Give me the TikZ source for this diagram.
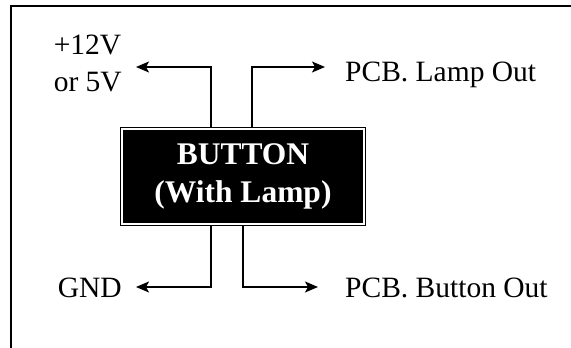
\documentclass[tikz,border=0pt]{standalone}
\usepackage{fontspec}
\setmainfont{Liberation Serif}
\usetikzlibrary{positioning,arrows.meta}

\begin{document}
\begin{tikzpicture}[x=1pt, y=1pt,
   wire/.style={line width=1.3pt, -{Stealth[length=13pt,width=11pt,inset=3pt]}},
   lbl/.style={inner sep=0pt, font=\fontsize{29.5}{37}\selectfont},
   lampbox/.style={fill=black, draw=black, line width=0.8pt, double=white, double distance=2pt,
                   text=white, align=center, inner sep=0pt, outer sep=1.8pt,
                   minimum width=242.4pt, minimum height=95.4pt,
                   font=\fontsize{31.5}{38}\selectfont\bfseries}]

   \useasboundingbox (0,0) rectangle (571,348);

   \draw[line width=1.8pt] (11,0) -- (11,342) -- (571,342);

   \node[lampbox] (btn) at (243,171.5) {BUTTON\\(With Lamp)};

   \coordinate (vccbend) at (211,281);
   \coordinate (vccend) at (136,281);
   \coordinate (lampbend) at (252,281);
   \coordinate (lampend) at (325,281);
   \coordinate (gndbend) at (211,61);
   \coordinate (gndend) at (136,61);
   \coordinate (outbend) at (243,61);
   \coordinate (outend) at (318,61);

   \node[lbl, align=left, left=14pt of vccend, yshift=3.5pt] (vcc) {+12V\\or 5V};
   \node[lbl, right=20pt of lampend, yshift=-8pt] (lampout) {PCB. Lamp Out};
   \node[lbl, left=14pt of gndend, yshift=-1pt] (gnd) {GND};
   \node[lbl, right=27pt of outend, yshift=-1pt] (btnout) {PCB. Button Out};

   \draw[wire] (btn.north -| vccbend) -- (vccbend) -- (vccend);
   \draw[wire] (btn.north -| lampbend) -- (lampbend) -- (lampend);
   \draw[wire] (btn.south -| gndbend) -- (gndbend) -- (gndend);
   \draw[wire] (btn.south -| outbend) -- (outbend) -- (outend);

\end{tikzpicture}
\end{document}
